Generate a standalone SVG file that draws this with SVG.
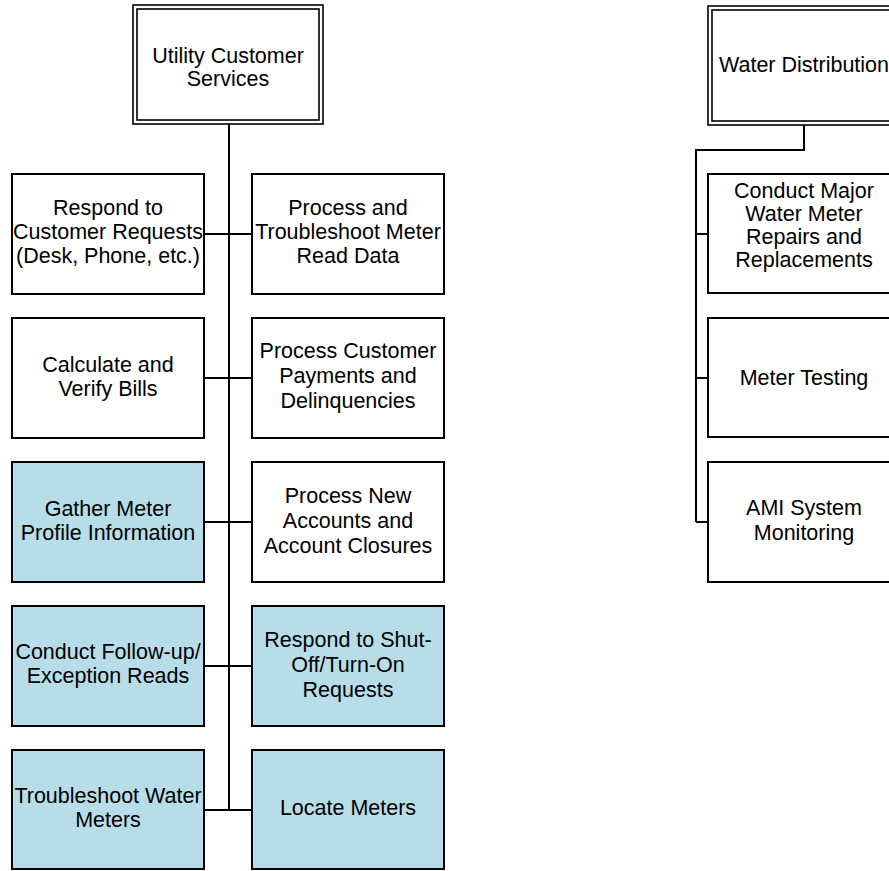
<svg xmlns="http://www.w3.org/2000/svg" width="889" height="871" viewBox="0 0 889 871">
  <style>
    .box { fill: #ffffff; stroke: #000000; stroke-width: 2; }
    .hl { fill: #b7dde8; stroke: #000000; stroke-width: 2; }
    .frame { fill: none; stroke: #000000; stroke-width: 1.6; }
    .wire { fill: none; stroke: #000000; stroke-width: 2; }
    text { font-family: "Liberation Sans", Arial, sans-serif; font-size: 21.5px; fill: #000000; text-anchor: middle; }
  </style>
  <rect width="889" height="871" fill="#ffffff"/>

  <!-- connectors -->
  <g id="connectors">
    <path class="wire" d="M229,124 V810"/>
    <path class="wire" d="M204,234 H252 M204,378 H252 M204,522 H252 M204,666 H252 M204,810 H252"/>
    <path class="wire" d="M804,125 V150 H696 V522"/>
    <path class="wire" d="M696,234 H708 M696,378 H708 M696,522 H708"/>
  </g>

  <!-- Utility Customer Services (root) -->
  <g id="utility-customer-services">
    <rect x="133" y="5" width="190" height="119" fill="#ffffff" class="frame"/>
    <rect x="137" y="9" width="182" height="111" class="frame"/>
    <text x="228" y="63">Utility Customer</text>
    <text x="228" y="86">Services</text>
  </g>

  <!-- left column -->
  <g id="respond-customer-requests">
    <rect class="box" x="12" y="174" width="192" height="120"/>
    <text x="108" y="215">Respond to</text>
    <text x="108" y="239">Customer Requests</text>
    <text x="108" y="263">(Desk, Phone, etc.)</text>
  </g>
  <g id="calculate-verify-bills">
    <rect class="box" x="12" y="318" width="192" height="120"/>
    <text x="108" y="372">Calculate and</text>
    <text x="108" y="396">Verify Bills</text>
  </g>
  <g id="gather-meter-profile">
    <rect class="hl" x="12" y="462" width="192" height="120"/>
    <text x="108" y="516">Gather Meter</text>
    <text x="108" y="540">Profile Information</text>
  </g>
  <g id="follow-up-reads">
    <rect class="hl" x="12" y="606" width="192" height="120"/>
    <text x="108" y="659">Conduct Follow-up/</text>
    <text x="108" y="683">Exception Reads</text>
  </g>
  <g id="troubleshoot-water-meters">
    <rect class="hl" x="12" y="750" width="192" height="119"/>
    <text x="108" y="803">Troubleshoot Water</text>
    <text x="108" y="827">Meters</text>
  </g>

  <!-- right column -->
  <g id="meter-read-data">
    <rect class="box" x="252" y="174" width="192" height="120"/>
    <text x="348" y="215">Process and</text>
    <text x="348" y="239">Troubleshoot Meter</text>
    <text x="348" y="263">Read Data</text>
  </g>
  <g id="customer-payments">
    <rect class="box" x="252" y="318" width="192" height="120"/>
    <text x="348" y="358">Process Customer</text>
    <text x="348" y="383">Payments and</text>
    <text x="348" y="408">Delinquencies</text>
  </g>
  <g id="new-accounts">
    <rect class="box" x="252" y="462" width="192" height="120"/>
    <text x="348" y="503">Process New</text>
    <text x="348" y="528">Accounts and</text>
    <text x="348" y="553">Account Closures</text>
  </g>
  <g id="shut-off-turn-on">
    <rect class="hl" x="252" y="606" width="192" height="120"/>
    <text x="348" y="647">Respond to Shut-</text>
    <text x="348" y="672">Off/Turn-On</text>
    <text x="348" y="697">Requests</text>
  </g>
  <g id="locate-meters">
    <rect class="hl" x="252" y="750" width="192" height="119"/>
    <text x="348" y="815">Locate Meters</text>
  </g>

  <!-- Water Distribution (root) -->
  <g id="water-distribution">
    <rect x="708" y="6" width="196" height="119" fill="#ffffff" class="frame"/>
    <rect x="712" y="10" width="188" height="111" class="frame"/>
    <text x="804" y="72">Water Distribution</text>
  </g>
  <g id="major-meter-repairs">
    <rect class="box" x="708" y="174" width="192" height="119"/>
    <text x="804" y="198">Conduct Major</text>
    <text x="804" y="221">Water Meter</text>
    <text x="804" y="244">Repairs and</text>
    <text x="804" y="267">Replacements</text>
  </g>
  <g id="meter-testing">
    <rect class="box" x="708" y="318" width="192" height="119"/>
    <text x="804" y="385">Meter Testing</text>
  </g>
  <g id="ami-monitoring">
    <rect class="box" x="708" y="462" width="192" height="120"/>
    <text x="804" y="515">AMI System</text>
    <text x="804" y="540">Monitoring</text>
  </g>
</svg>
